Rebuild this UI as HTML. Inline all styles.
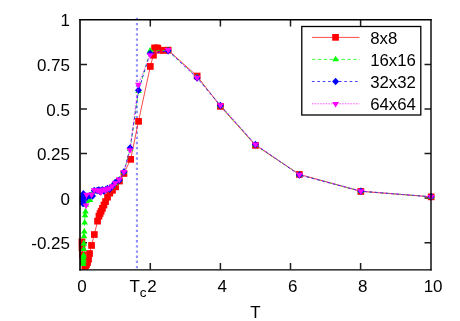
<!DOCTYPE html>
<html><head><meta charset="utf-8"><title>plot</title>
<style>
html,body{margin:0;padding:0;background:#fff;}
svg{display:block;}
text{font-family:"Liberation Sans",sans-serif;font-size:17px;fill:#000;}
</style></head>
<body>
<svg width="460" height="321" viewBox="0 0 460 321">
<defs><filter id="nf" x="0" y="0" width="460" height="321" filterUnits="userSpaceOnUse"><feOffset dx="0" dy="0"/></filter></defs>
<rect width="460" height="321" fill="#fff"/>
<g stroke="#1c1c1c" stroke-width="1.5" fill="none">
<path d="M80.5 64.5h6.5 M431.0 64.5h-6.5"/><path d="M80.5 109.1h6.5 M431.0 109.1h-6.5"/><path d="M80.5 153.6h6.5 M431.0 153.6h-6.5"/><path d="M80.5 198.1h6.5 M431.0 198.1h-6.5"/><path d="M80.5 242.7h6.5 M431.0 242.7h-6.5"/><path d="M150.3 269.4v-6.5 M150.3 20.0v6.5"/><path d="M220.4 269.4v-6.5 M220.4 20.0v6.5"/><path d="M290.5 269.4v-6.5 M290.5 20.0v6.5"/><path d="M360.6 269.4v-6.5 M360.6 20.0v6.5"/>
</g>
<!-- Tc dotted line -->
<path d="M136.95 17.78V269.4" stroke="#8e8eff" stroke-width="2.1" stroke-dasharray="2.3 2.87" fill="none"/>
<g filter="url(#nf)"><text x="70" y="26.4" text-anchor="end">1</text><text x="70" y="70.9" text-anchor="end">0.75</text><text x="70" y="115.5" text-anchor="end">0.5</text><text x="70" y="160.0" text-anchor="end">0.25</text><text x="70" y="204.5" text-anchor="end">0</text><text x="70" y="249.1" text-anchor="end">-0.25</text><text x="82.0" y="292.3" text-anchor="middle">0</text><text x="152.1" y="292.3" text-anchor="middle">2</text><text x="222.3" y="292.3" text-anchor="middle">4</text><text x="292.7" y="292.3" text-anchor="middle">6</text><text x="362.7" y="292.3" text-anchor="middle">8</text><text x="433.1" y="292.3" text-anchor="middle">10</text>
<text x="129.4" y="292.3">T<tspan dy="4.4" font-size="13.6px">c</tspan></text>
<text x="255.4" y="317.6" text-anchor="middle">T</text>
</g>
<!-- series -->
<g fill="none" stroke-width="0.72">
<polyline points="431.2,196.8 360.9,191.4 299.4,174.4 255.4,145.3 220.4,106.3 197.1,76.0 168.1,50.1 163.8,50.4 160.6,50.2 157.8,48.1 156.4,48.0 154.6,48.0 153.4,55.2 150.3,66.5 138.5,121.3 130.7,159.3 123.9,173.4 119.5,181.0 115.5,186.8 112.4,190.3 109.7,193.2 107.5,197.1 105.5,201.5 103.9,205.0 102.4,208.3 101.1,211.2 100.0,213.6 98.9,216.2 97.6,221.1 94.3,234.5 91.5,245.4 89.6,253.6 88.5,259.0 87.5,262.5 86.5,264.5 85.5,265.8 84.8,266.3 83.3,262.0 82.5,255.0 82.0,248.0 81.9,241.8" stroke="#ff0000"/>
</g>
<g fill="#ff0000"><rect x="427.8" y="193.5" width="6.7" height="6.7"/><rect x="357.5" y="188.1" width="6.7" height="6.7"/><rect x="296.0" y="171.1" width="6.7" height="6.7"/><rect x="252.1" y="142.0" width="6.7" height="6.7"/><rect x="217.1" y="103.0" width="6.7" height="6.7"/><rect x="193.8" y="72.7" width="6.7" height="6.7"/><rect x="164.8" y="46.8" width="6.7" height="6.7"/><rect x="160.5" y="47.0" width="6.7" height="6.7"/><rect x="157.2" y="46.9" width="6.7" height="6.7"/><rect x="154.5" y="44.8" width="6.7" height="6.7"/><rect x="153.1" y="44.6" width="6.7" height="6.7"/><rect x="151.2" y="44.6" width="6.7" height="6.7"/><rect x="150.1" y="51.9" width="6.7" height="6.7"/><rect x="147.0" y="63.1" width="6.7" height="6.7"/><rect x="135.2" y="118.0" width="6.7" height="6.7"/><rect x="127.3" y="156.0" width="6.7" height="6.7"/><rect x="120.6" y="170.1" width="6.7" height="6.7"/><rect x="116.1" y="177.7" width="6.7" height="6.7"/><rect x="112.2" y="183.5" width="6.7" height="6.7"/><rect x="109.1" y="187.0" width="6.7" height="6.7"/><rect x="106.4" y="189.8" width="6.7" height="6.7"/><rect x="104.2" y="193.8" width="6.7" height="6.7"/><rect x="102.2" y="198.2" width="6.7" height="6.7"/><rect x="100.6" y="201.7" width="6.7" height="6.7"/><rect x="99.1" y="205.0" width="6.7" height="6.7"/><rect x="97.8" y="207.8" width="6.7" height="6.7"/><rect x="96.7" y="210.2" width="6.7" height="6.7"/><rect x="95.6" y="212.8" width="6.7" height="6.7"/><rect x="94.2" y="217.8" width="6.7" height="6.7"/><rect x="91.0" y="231.2" width="6.7" height="6.7"/><rect x="88.2" y="242.1" width="6.7" height="6.7"/><rect x="86.2" y="250.2" width="6.7" height="6.7"/><rect x="85.2" y="255.7" width="6.7" height="6.7"/><rect x="84.2" y="259.1" width="6.7" height="6.7"/><rect x="83.2" y="261.1" width="6.7" height="6.7"/><rect x="82.2" y="262.4" width="6.7" height="6.7"/><rect x="81.5" y="262.9" width="6.7" height="6.7"/><rect x="80.0" y="258.6" width="6.7" height="6.7"/><rect x="79.2" y="251.7" width="6.7" height="6.7"/><rect x="78.7" y="244.7" width="6.7" height="6.7"/><rect x="78.6" y="238.5" width="6.7" height="6.7"/></g>
<polyline points="431.2,196.8 360.9,191.2 299.4,174.6 255.4,144.9 220.4,105.6 197.1,77.2 168.1,50.4 150.1,50.8 138.6,91.0 130.2,149.0 123.9,172.1 119.2,179.7 115.2,183.3 112.3,186.3 109.7,188.3 107.5,189.3 105.6,189.9 103.9,190.3 102.4,190.6 101.1,190.8 100.0,190.9 98.9,190.8 97.2,190.6 94.3,191.5 92.2,194.0 90.0,200.0 86.5,201.0 85.8,204.9 85.5,211.7 85.0,215.4 84.7,222.6 84.3,231.7 84.0,236.3 83.8,243.8 83.7,249.1 83.6,255.3 83.5,256.9 83.4,259.5 83.4,261.5 83.3,264.1" stroke="#00ff00" stroke-width="0.75" stroke-dasharray="3.5 2.4" fill="none"/>
<g fill="#00ff00"><path d="M431.2 193.1L434.5 198.7L427.9 198.7Z"/><path d="M360.9 187.5L364.2 193.1L357.6 193.1Z"/><path d="M299.4 170.9L302.7 176.5L296.1 176.5Z"/><path d="M255.4 141.2L258.7 146.8L252.1 146.8Z"/><path d="M220.4 101.9L223.7 107.5L217.1 107.5Z"/><path d="M197.1 73.5L200.4 79.1L193.8 79.1Z"/><path d="M168.1 46.7L171.4 52.3L164.8 52.3Z"/><path d="M150.1 47.1L153.4 52.7L146.8 52.7Z"/><path d="M138.6 87.3L141.9 92.9L135.3 92.9Z"/><path d="M130.2 145.3L133.5 150.9L126.9 150.9Z"/><path d="M123.9 168.4L127.2 174.0L120.6 174.0Z"/><path d="M119.2 176.0L122.5 181.6L115.9 181.6Z"/><path d="M115.2 179.6L118.5 185.2L111.9 185.2Z"/><path d="M112.3 182.6L115.6 188.2L109.0 188.2Z"/><path d="M109.7 184.6L113.0 190.2L106.4 190.2Z"/><path d="M107.5 185.6L110.8 191.2L104.2 191.2Z"/><path d="M105.6 186.2L108.9 191.8L102.3 191.8Z"/><path d="M103.9 186.6L107.2 192.2L100.6 192.2Z"/><path d="M102.4 186.9L105.7 192.5L99.1 192.5Z"/><path d="M101.1 187.1L104.4 192.7L97.8 192.7Z"/><path d="M100.0 187.2L103.3 192.8L96.7 192.8Z"/><path d="M98.9 187.1L102.2 192.7L95.6 192.7Z"/><path d="M97.2 186.9L100.5 192.5L93.9 192.5Z"/><path d="M94.3 187.8L97.6 193.4L91.0 193.4Z"/><path d="M92.2 190.3L95.5 195.9L88.9 195.9Z"/><path d="M90.0 196.3L93.3 201.9L86.7 201.9Z"/><path d="M86.5 197.3L89.8 202.9L83.2 202.9Z"/><path d="M85.8 201.2L89.1 206.8L82.5 206.8Z"/><path d="M85.5 208.0L88.8 213.6L82.2 213.6Z"/><path d="M85.0 211.7L88.3 217.3L81.7 217.3Z"/><path d="M84.7 218.9L88.0 224.5L81.4 224.5Z"/><path d="M84.3 228.0L87.6 233.6L81.0 233.6Z"/><path d="M84.0 232.6L87.3 238.2L80.7 238.2Z"/><path d="M83.8 240.1L87.1 245.7L80.5 245.7Z"/><path d="M83.7 245.4L87.0 251.0L80.4 251.0Z"/><path d="M83.6 251.6L86.9 257.2L80.3 257.2Z"/><path d="M83.5 253.2L86.8 258.8L80.2 258.8Z"/><path d="M83.4 255.8L86.7 261.4L80.1 261.4Z"/><path d="M83.4 257.8L86.7 263.4L80.1 263.4Z"/><path d="M83.3 260.4L86.6 266.0L80.0 266.0Z"/></g>
<polyline points="431.2,196.8 360.9,191.2 299.4,175.0 255.4,144.6 220.4,105.6 197.1,78.0 168.1,50.8 150.1,53.5 138.5,90.3 130.1,148.0 123.9,172.0 119.2,180.3 115.2,182.5 112.3,186.2 109.7,188.9 107.5,188.5 105.6,189.8 103.9,190.9 102.4,189.8 101.1,190.7 100.0,191.5 98.9,190.0 97.2,190.5 94.3,190.6 92.5,196.0 90.0,195.6 86.5,197.5 84.4,196.0 83.4,193.9 82.9,196.5 82.8,199.0 82.9,201.5 83.0,203.5" stroke="#0000ff" stroke-width="0.75" stroke-dasharray="2.6 2.8" fill="none"/>
<g fill="#0000ff"><path d="M431.2 193.0L434.7 196.8L431.2 200.6L427.7 196.8Z"/><path d="M360.9 187.4L364.4 191.2L360.9 195.0L357.4 191.2Z"/><path d="M299.4 171.2L302.9 175.0L299.4 178.8L295.9 175.0Z"/><path d="M255.4 140.8L258.9 144.6L255.4 148.4L251.9 144.6Z"/><path d="M220.4 101.8L223.9 105.6L220.4 109.4L216.9 105.6Z"/><path d="M197.1 74.2L200.6 78.0L197.1 81.8L193.6 78.0Z"/><path d="M168.1 47.0L171.6 50.8L168.1 54.6L164.6 50.8Z"/><path d="M150.1 49.7L153.6 53.5L150.1 57.3L146.6 53.5Z"/><path d="M138.5 86.5L142.0 90.3L138.5 94.1L135.0 90.3Z"/><path d="M130.1 144.2L133.6 148.0L130.1 151.8L126.6 148.0Z"/><path d="M123.9 168.2L127.4 172.0L123.9 175.8L120.4 172.0Z"/><path d="M119.2 176.5L122.7 180.3L119.2 184.1L115.7 180.3Z"/><path d="M115.2 178.7L118.7 182.5L115.2 186.3L111.7 182.5Z"/><path d="M112.3 182.4L115.8 186.2L112.3 190.0L108.8 186.2Z"/><path d="M109.7 185.1L113.2 188.9L109.7 192.7L106.2 188.9Z"/><path d="M107.5 184.7L111.0 188.5L107.5 192.3L104.0 188.5Z"/><path d="M105.6 186.0L109.1 189.8L105.6 193.6L102.1 189.8Z"/><path d="M103.9 187.1L107.4 190.9L103.9 194.7L100.4 190.9Z"/><path d="M102.4 186.0L105.9 189.8L102.4 193.6L98.9 189.8Z"/><path d="M101.1 186.9L104.6 190.7L101.1 194.5L97.6 190.7Z"/><path d="M100.0 187.7L103.5 191.5L100.0 195.3L96.5 191.5Z"/><path d="M98.9 186.2L102.4 190.0L98.9 193.8L95.4 190.0Z"/><path d="M97.2 186.7L100.7 190.5L97.2 194.3L93.7 190.5Z"/><path d="M94.3 186.8L97.8 190.6L94.3 194.4L90.8 190.6Z"/><path d="M92.5 192.2L96.0 196.0L92.5 199.8L89.0 196.0Z"/><path d="M90.0 191.8L93.5 195.6L90.0 199.4L86.5 195.6Z"/><path d="M86.5 193.7L90.0 197.5L86.5 201.3L83.0 197.5Z"/><path d="M84.4 192.2L87.9 196.0L84.4 199.8L80.9 196.0Z"/><path d="M83.4 190.1L86.9 193.9L83.4 197.7L79.9 193.9Z"/><path d="M82.9 192.7L86.4 196.5L82.9 200.3L79.4 196.5Z"/><path d="M82.8 195.2L86.3 199.0L82.8 202.8L79.3 199.0Z"/><path d="M82.9 197.7L86.4 201.5L82.9 205.3L79.4 201.5Z"/><path d="M83.0 199.7L86.5 203.5L83.0 207.3L79.5 203.5Z"/></g>
<polyline points="431.2,196.8 360.9,191.0 299.4,174.6 255.4,144.3 220.4,105.0 197.1,77.6 168.1,49.9 150.1,55.0 138.4,84.6 130.1,150.0 123.9,171.8 119.2,179.4 115.2,183.0 112.3,186.0 109.7,188.0 107.5,189.0 105.6,189.6 104.2,189.4 102.4,190.3 101.1,190.5 100.8,192.3 98.9,190.5 97.2,190.3 94.3,190.0 91.5,194.6 86.6,194.6 86.1,205.2" stroke="#ff00ff" stroke-width="1" stroke-opacity="0.7" stroke-dasharray="1.5 1.25" fill="none"/>
<g fill="#ff00ff"><path d="M431.2 200.6L434.6 195.0L427.8 195.0Z"/><path d="M360.9 194.8L364.3 189.2L357.4 189.2Z"/><path d="M299.4 178.4L302.8 172.8L295.9 172.8Z"/><path d="M255.4 148.1L258.9 142.5L252.0 142.5Z"/><path d="M220.4 108.8L223.8 103.2L217.0 103.2Z"/><path d="M197.1 81.4L200.5 75.8L193.7 75.8Z"/><path d="M168.1 53.7L171.5 48.1L164.7 48.1Z"/><path d="M150.1 58.8L153.5 53.2L146.7 53.2Z"/><path d="M138.4 88.4L141.8 82.8L135.0 82.8Z"/><path d="M130.1 153.8L133.5 148.2L126.6 148.2Z"/><path d="M123.9 175.6L127.4 170.0L120.5 170.0Z"/><path d="M119.2 183.2L122.7 177.6L115.8 177.6Z"/><path d="M115.2 186.8L118.7 181.2L111.8 181.2Z"/><path d="M112.3 189.8L115.8 184.2L108.8 184.2Z"/><path d="M109.7 191.8L113.2 186.2L106.2 186.2Z"/><path d="M107.5 192.8L111.0 187.2L104.0 187.2Z"/><path d="M105.6 193.4L109.0 187.8L102.1 187.8Z"/><path d="M104.2 193.2L107.7 187.6L100.8 187.6Z"/><path d="M102.4 194.1L105.9 188.5L99.0 188.5Z"/><path d="M101.1 194.3L104.5 188.7L97.6 188.7Z"/><path d="M100.8 196.1L104.2 190.5L97.3 190.5Z"/><path d="M98.9 194.3L102.4 188.7L95.5 188.7Z"/><path d="M97.2 194.1L100.7 188.5L93.8 188.5Z"/><path d="M94.3 193.8L97.8 188.2L90.8 188.2Z"/><path d="M91.5 198.4L95.0 192.8L88.0 192.8Z"/><path d="M86.6 198.4L90.0 192.8L83.1 192.8Z"/><path d="M86.1 209.0L89.5 203.4L82.6 203.4Z"/></g>
<!-- legend -->
<rect x="301.78" y="26.5" width="119.02" height="88.5" fill="#fff" stroke="#000" stroke-width="1.3"/>
<g fill="none">
<path d="M311.9 37.4H359.4" stroke="#ff0000" stroke-width="0.72"/>
<path d="M311.9 59.4H359.4" stroke="#00ff00" stroke-width="0.75" stroke-dasharray="3.5 2.4"/>
<path d="M311.9 81.5H359.4" stroke="#0000ff" stroke-width="0.75" stroke-dasharray="2.6 2.8"/>
<path d="M311.9 103.8H359.4" stroke="#ff00ff" stroke-width="1" stroke-opacity="0.7" stroke-dasharray="1.5 1.25"/>
</g>
<g fill="#ff0000"><rect x="332.2" y="34.0" width="6.7" height="6.7"/></g>
<g fill="#00ff00"><path d="M335.6 55.7L338.9 61.3L332.3 61.3Z"/></g>
<g fill="#0000ff"><path d="M335.6 77.7L339.1 81.5L335.6 85.3L332.1 81.5Z"/></g>
<g fill="#ff00ff"><path d="M335.6 107.6L339.1 102.0L332.2 102.0Z"/></g>
<g filter="url(#nf)">
<text x="370.2" y="43.8" style="font-size:16.8px">8x8</text>
<text x="370.2" y="65.8" style="font-size:16.8px">16x16</text>
<text x="370.2" y="87.9" style="font-size:16.8px">32x32</text>
<text x="370.2" y="110.2" style="font-size:16.8px">64x64</text>
</g>
<!-- frame on top -->
<g stroke="#000" fill="none" stroke-linecap="square">
<path d="M80.0 19.7V269.78" stroke-width="1.6"/>
<path d="M80.0 19.7H431.0" stroke-width="1.4"/>
<path d="M431.0 19.7V269.78" stroke-width="1.4"/>
<path d="M80.0 269.78H431.0" stroke-width="1.2"/>
</g>
</svg>
</body></html>
